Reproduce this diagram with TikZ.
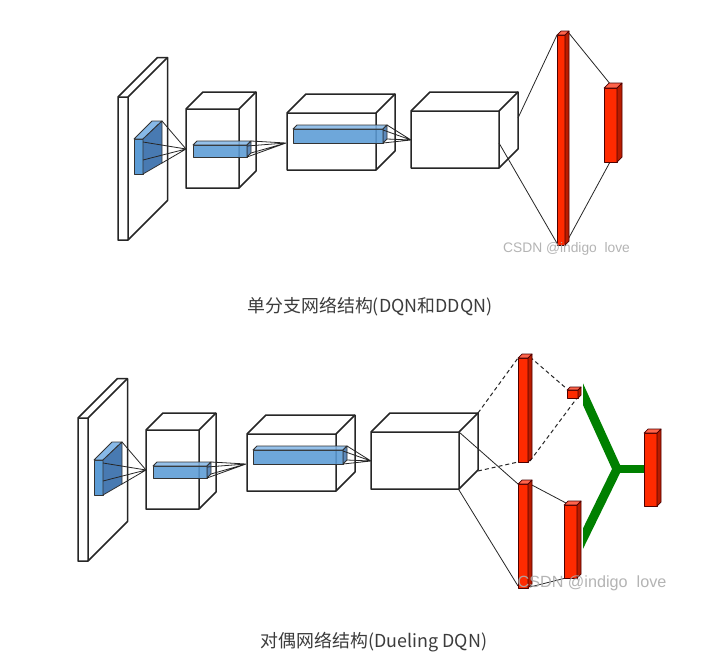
\documentclass[tikz,border=0pt]{standalone}
\usepackage{fontspec}
\newfontfamily\cjk{Noto Sans CJK SC}
\newfontfamily\wmfont{Liberation Sans}
\definecolor{bluefront}{RGB}{91,155,213}
\definecolor{bluetop}{RGB}{135,185,232}
\definecolor{blueside}{RGB}{72,122,178}
\definecolor{redfront}{RGB}{255,42,0}
\definecolor{redtop}{RGB}{255,100,75}
\definecolor{redside}{RGB}{185,28,0}
\definecolor{dqngreen}{RGB}{0,128,0}
\definecolor{captext}{RGB}{60,60,60}
\definecolor{wmgray}{RGB}{172,172,172}
\tikzset{
  edge/.style={line width=1.5pt, draw=black!85, line join=round},
  link/.style={line width=0.8pt, draw=black!85},
  dlink/.style={line width=1pt, draw=black!85, dash pattern=on 4pt off 3pt},
  bluefill/.style={draw=black!80, line width=0.8pt, line join=round},
  redfill/.style={draw=black!70!red, line width=0.7pt, line join=round},
  caption/.style={font=\cjk\fontsize{17.9}{21}\selectfont, text=captext},
  watermark/.style={font=\wmfont, text=wmgray, text opacity=0.9},
}
% wire box: front rectangle (x1,y1)-(x2,y2), depth d up and right
\newcommand{\wirebox}[5]{%
  \filldraw[edge,fill=white] (#1,#2) -- (#1+#5,#2-#5) -- (#3+#5,#2-#5) -- (#3+#5,#4-#5) -- (#3,#4) -- (#1,#4) -- cycle;
  \draw[edge] (#1,#2) -- (#3,#2) -- (#3,#4) (#3,#2) -- (#3+#5,#2-#5);
}
% solid prism: front rectangle, depth d, colours front/top/side, style
\newcommand{\solidbox}[9]{%
  \filldraw[#9,fill=#6] (#1,#2) rectangle (#3,#4);
  \filldraw[#9,fill=#7] (#1,#2) -- (#1+#5,#2-#5) -- (#3+#5,#2-#5) -- (#3,#2) -- cycle;
  \filldraw[#9,fill=#8] (#3,#2) -- (#3+#5,#2-#5) -- (#3+#5,#4-#5) -- (#3,#4) -- cycle;
}
\newcommand{\leftnet}[1]{%
  % input slab
  \wirebox{118}{97}{128}{240}{39.5}
  % blue receptive field
  \filldraw[bluefill,fill=bluefront] (134,139) rectangle (143,174);
  \filldraw[bluefill,fill=bluetop] (134,139) -- (152,121) -- (162,121) -- (143,139) -- cycle;
  \filldraw[bluefill,fill=blueside] (143,139) -- (162,121) -- (162,163) -- (143,174) -- cycle;
  \coordinate (#1k1) at (186,149);
  \coordinate (#1a1) at (162,121);
  \coordinate (#1a2) at (143,142);
  \coordinate (#1a3) at (143,160);
  \coordinate (#1a4) at (162,163);
  \draw[link] (#1a1) -- (#1k1) (#1a2) -- (#1k1) (#1a3) -- (#1k1) (#1a4) -- (#1k1);
  % cube 1
  \wirebox{186}{109}{239}{188}{17}
  \begin{scope}[fill opacity=0.88]
    \solidbox{193}{145}{247}{157}{4}{bluefront}{bluetop}{blueside}{bluefill}
  \end{scope}
  \coordinate (#1k2) at (286,143);
  \coordinate (#1b1) at (251,141);
  \coordinate (#1b2) at (247,146);
  \coordinate (#1b3) at (251,153);
  \coordinate (#1b4) at (247,157);
  \draw[link] (#1b1) -- (#1k2) (#1b2) -- (#1k2) (#1b3) -- (#1k2) (#1b4) -- (#1k2);
  % cube 2
  \wirebox{287}{113}{376}{170}{19}
  \begin{scope}[fill opacity=0.88]
    \solidbox{293}{129}{383}{143}{4}{bluefront}{bluetop}{blueside}{bluefill}
  \end{scope}
  \coordinate (#1k3) at (411,140);
  \coordinate (#1c1) at (387,125);
  \coordinate (#1c2) at (383,130);
  \coordinate (#1c3) at (387,139);
  \coordinate (#1c4) at (383,143);
  \draw[link] (#1c1) -- (#1k3) (#1c2) -- (#1k3) (#1c3) -- (#1k3) (#1c4) -- (#1k3);
  % cube 3
  \wirebox{411}{111}{499}{168}{19}
}
\begin{document}
\begin{tikzpicture}[x=1pt,y=-1pt]
\useasboundingbox (0,0) rectangle (726,664);
\fill[white] (0,0) rectangle (726,664);

% ---------------- top: single branch ----------------
\leftnet{t}
\coordinate (tq1) at (518,118);
\coordinate (tq2) at (499,143);
\coordinate (tr1) at (557,35);
\coordinate (tr2) at (558,245);
\coordinate (tr3) at (568,32);
\coordinate (tr4) at (565,245);
\coordinate (ts1) at (611,85);
\coordinate (ts2) at (610,162);
\draw[link] (tq1) -- (tr1) (tq2) -- (tr2);
\draw[link] (tr3) -- (ts1) (tr4) -- (ts2);
\solidbox{557}{35}{565}{245}{4}{redfront}{redtop}{redside}{redfill}
\solidbox{604}{88}{617}{162}{5}{redfront}{redtop}{redside}{redfill}
\node[watermark, font=\wmfont\fontsize{13.8}{16}\selectfont] (wm1) at (566.5,249) {CSDN @indigo\ \ love};
\node[caption] (cap1) at (370,307) {单分支网络结构(DQN和DDQN)};

% ---------------- bottom: dueling ----------------
\begin{scope}[shift={(-40,321)}]
  \leftnet{b}
\end{scope}
\coordinate (bq1) at (478,413);
\coordinate (bq2) at (478,471);
\coordinate (bq3) at (459,432);
\coordinate (bq4) at (459,490);
\coordinate (u1) at (518,358);
\coordinate (u2) at (518,462);
\coordinate (u3) at (530,357);
\coordinate (u4) at (530,461);
\coordinate (v1) at (567,389);
\coordinate (v2) at (577,398);
\coordinate (w1) at (518,484);
\coordinate (w2) at (518,586);
\coordinate (w3) at (530,484);
\coordinate (w4) at (530,587);
\coordinate (z1) at (566,503);
\coordinate (z2) at (566,578);
\draw[dlink] (bq1) -- (u1) (bq2) -- (u2);
\draw[dlink] (u3) -- (v1) (u4) -- (v2);
\draw[link] (bq3) -- (w1) (bq4) -- (w2);
\draw[link] (w3) -- (z1) (w4) -- (z2);
\solidbox{518}{358}{528}{462}{4}{redfront}{redtop}{redside}{redfill}
\solidbox{567}{390}{578}{398}{3}{redfront}{redtop}{redside}{redfill}
\solidbox{518}{484}{528}{588}{4}{redfront}{redtop}{redside}{redfill}
\solidbox{564}{505}{577}{578}{4}{redfront}{redtop}{redside}{redfill}
% green aggregation
\coordinate (gj) at (617,469);
\coordinate (g1) at (577,381);
\coordinate (g2) at (574,557);
\coordinate (g3) at (644,469);
\begin{scope}
  \clip (583,370) rectangle (650,560);
  \draw[dqngreen, line width=9pt, line join=miter] (g1) -- (gj) -- (g2);
  \draw[dqngreen, line width=8pt] (gj) -- (g3);
\end{scope}
\solidbox{644}{433}{657}{506}{4}{redfront}{redtop}{redside}{redfill}
\node[watermark, font=\wmfont\fontsize{16.2}{19}\selectfont] (wm2) at (592,583) {CSDN @indigo\ \ love};
\node[caption] (cap2) at (374,642) {对偶网络结构(Dueling DQN)};
\end{tikzpicture}
\end{document}
